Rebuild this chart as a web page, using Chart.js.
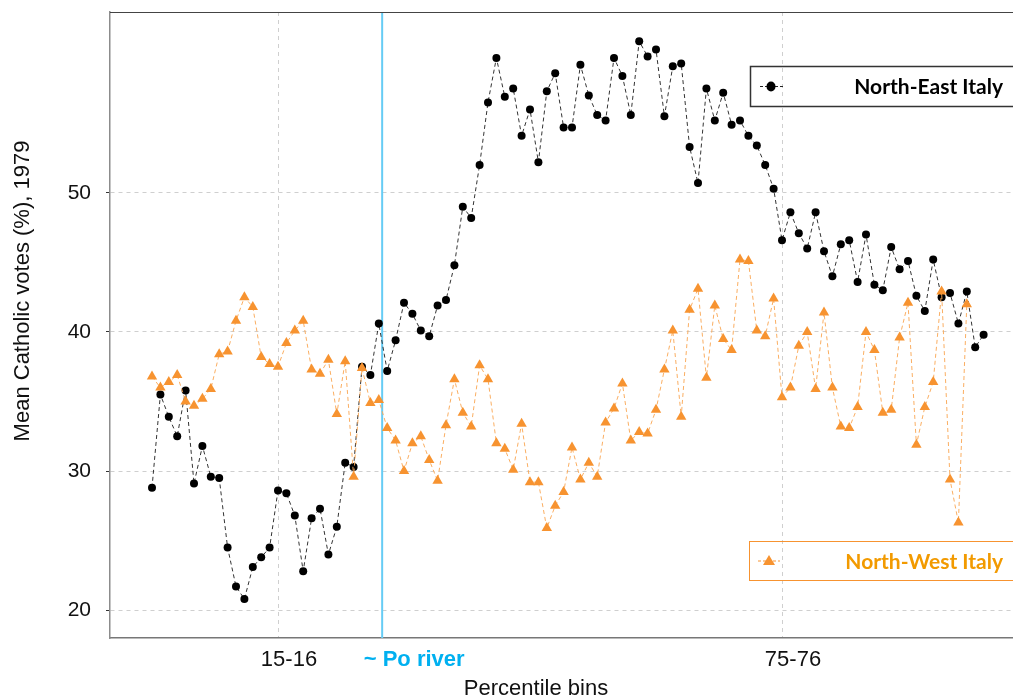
<!DOCTYPE html>
<html>
<head>
<meta charset="utf-8">
<script src="https://cdn.jsdelivr.net/npm/chart.js@4.4.0/dist/chart.umd.min.js"></script>
<style>
  html, body { margin: 0; padding: 0; background: #fff; }
  #wrap { width: 1013px; height: 700px; position: relative; }
</style>
</head>
<body>
<div id="wrap"><canvas id="chart"></canvas></div>
<script>
// values, one per percentile bin (0-1, 1-2, ...)
const northEast = [
  28.8, 35.5, 33.9, 32.5, 35.8, 29.1, 31.8, 29.6, 29.5, 24.5,
  21.7, 20.8, 23.1, 23.8, 24.5, 28.6, 28.4, 26.8, 22.8, 26.6,
  27.3, 24.0, 26.0, 30.6, 30.3, 37.5, 36.9, 40.6, 37.2, 39.4,
  42.1, 41.3, 40.1, 39.7, 41.9, 42.3, 44.8, 49.0, 48.2, 52.0,
  56.5, 59.7, 56.9, 57.5, 54.1, 56.0, 52.2, 57.3, 58.6, 54.7,
  54.7, 59.2, 57.0, 55.6, 55.2, 59.7, 58.4, 55.6, 60.9, 59.8,
  60.3, 55.5, 59.1, 59.3, 53.3, 50.7, 57.5, 55.2, 57.2, 54.9,
  55.2, 54.1, 53.4, 52.0, 50.3, 46.6, 48.6, 47.1, 46.0, 48.6,
  45.8, 44.0, 46.3, 46.6, 43.6, 47.0, 43.4, 43.0, 46.1, 44.5,
  45.1, 42.6, 41.5, 45.2, 42.5, 42.8, 40.6, 42.9, 38.9, 39.8
];

const northWest = [
  36.8, 36.0, 36.4, 36.9, 35.0, 34.7, 35.2, 35.9, 38.4, 38.6,
  40.8, 42.5, 41.8, 38.2, 37.7, 37.5, 39.2, 40.1, 40.8, 37.3,
  37.0, 38.0, 34.1, 37.9, 29.6, 37.4, 34.9, 35.1, 33.1, 32.2,
  30.0, 32.0, 32.5, 30.8, 29.3, 33.3, 36.6, 34.2, 33.2, 37.6,
  36.6, 32.0, 31.6, 30.1, 33.4, 29.2, 29.2, 25.9, 27.5, 28.5,
  31.7, 29.4, 30.6, 29.6, 33.5, 34.5, 36.3, 32.2, 32.8, 32.7,
  34.4, 37.3, 40.1, 33.9, 41.6, 43.1, 36.7, 41.9, 39.5, 38.7,
  45.2, 45.1, 40.1, 39.7, 42.4, 35.3, 36.0, 39.0, 40.0, 35.9,
  41.4, 36.0, 33.2, 33.1, 34.6, 40.0, 38.7, 34.2, 34.4, 39.6,
  42.1, 31.9, 34.6, 36.4, 42.9, 29.4, 26.3, 42.0
];

const seriesNames = ["North-East Italy", "North-West Italy"];
const xTickValues = [15, 75];
const xTickLabels = ["15-16", "75-76"];
const yTickValues = [20, 30, 40, 50];
const poRiverBin = 27.4;
const poRiverLabel = "~ Po river";
const xTitle = "Percentile bins";
const yTitle = "Mean Catholic votes (%), 1979";

const ORANGE = "rgb(247,147,48)";
const ORANGE_TEXT = "#F29A00";
const BLUE_LINE = "#66CCF5";
const BLUE_TEXT = "#00B0F0";
const AXIS_FONT = "'Liberation Sans', Arial, sans-serif";
const LEGEND_FONT = "Lato, 'Open Sans', sans-serif";

const toPoints = values => values.map((v, i) => ({ x: i, y: v }));

// scales should not add their own label padding to the plot area
function noPadding(scale) {
  scale.paddingLeft = 0;
  scale.paddingRight = 0;
  scale.paddingTop = 0;
  scale.paddingBottom = 0;
}

// extras: Po river line and label, top frame, axis titles, the two legend boxes
const extrasPlugin = {
  id: "extras",
  beforeDatasetsDraw(chart) {
    const { ctx, chartArea, scales } = chart;
    const px = scales.x.getPixelForValue(poRiverBin);
    ctx.save();
    ctx.strokeStyle = BLUE_LINE;
    ctx.lineWidth = 2;
    ctx.beginPath();
    ctx.moveTo(px, chartArea.top);
    ctx.lineTo(px, chartArea.bottom);
    ctx.stroke();
    ctx.restore();
  },
  afterDraw(chart) {
    const { ctx, chartArea, scales } = chart;
    ctx.save();

    // top frame line
    ctx.strokeStyle = "#444";
    ctx.lineWidth = 1.2;
    ctx.beginPath();
    ctx.moveTo(chartArea.left, chartArea.top + 0.5);
    ctx.lineTo(chartArea.right, chartArea.top + 0.5);
    ctx.stroke();

    // Po river label
    const px = scales.x.getPixelForValue(poRiverBin);
    ctx.fillStyle = BLUE_TEXT;
    ctx.font = "bold 22px " + AXIS_FONT;
    ctx.textAlign = "center";
    ctx.textBaseline = "middle";
    ctx.fillText(poRiverLabel, px + 32, 660);

    // axis titles
    ctx.fillStyle = "#111";
    ctx.font = "22px " + AXIS_FONT;
    ctx.fillText(xTitle, 536, 689);
    ctx.save();
    ctx.translate(23, 291);
    ctx.rotate(-Math.PI / 2);
    ctx.fillText(yTitle, 0, 0);
    ctx.restore();

    // legend: North-East
    ctx.strokeStyle = "#333";
    ctx.lineWidth = 1.5;
    ctx.strokeRect(750.5, 66.5, 275, 40);
    ctx.setLineDash([3, 2]);
    ctx.lineWidth = 1;
    ctx.strokeStyle = "#222";
    ctx.beginPath();
    ctx.moveTo(760, 86.5);
    ctx.lineTo(783, 86.5);
    ctx.stroke();
    ctx.setLineDash([]);
    ctx.fillStyle = "#000";
    ctx.beginPath();
    ctx.ellipse(771, 86.5, 4.5, 5, 0, 0, Math.PI * 2);
    ctx.fill();
    ctx.font = "bold 21px " + LEGEND_FONT;
    ctx.textAlign = "right";
    ctx.fillText(seriesNames[0], 1003, 87);

    // legend: North-West
    ctx.strokeStyle = ORANGE;
    ctx.lineWidth = 1;
    ctx.strokeRect(749.5, 541.5, 275, 39);
    ctx.setLineDash([3, 2]);
    ctx.beginPath();
    ctx.moveTo(758, 561);
    ctx.lineTo(780, 561);
    ctx.stroke();
    ctx.setLineDash([]);
    ctx.fillStyle = ORANGE;
    ctx.beginPath();
    ctx.moveTo(769, 555);
    ctx.lineTo(775, 565);
    ctx.lineTo(763, 565);
    ctx.closePath();
    ctx.fill();
    ctx.fillStyle = ORANGE_TEXT;
    ctx.fillText(seriesNames[1], 1003, 562);

    ctx.restore();
  }
};

new Chart(document.getElementById("chart"), {
  type: "line",
  data: {
    datasets: [
      {
        label: seriesNames[0],
        data: toPoints(northEast),
        borderColor: "#333",
        borderWidth: 1,
        borderDash: [4, 3],
        pointStyle: "circle",
        pointRadius: 4,
        pointBackgroundColor: "#000",
        pointBorderColor: "#000",
        pointBorderWidth: 0,
        tension: 0,
        order: 2
      },
      {
        label: seriesNames[1],
        data: toPoints(northWest),
        borderColor: "rgba(250,170,90,0.95)",
        borderWidth: 1,
        borderDash: [4, 3],
        pointStyle: "triangle",
        pointRadius: 6,
        pointBackgroundColor: ORANGE,
        pointBorderColor: ORANGE,
        pointBorderWidth: 0,
        tension: 0,
        order: 1
      }
    ]
  },
  options: {
    responsive: true,
    maintainAspectRatio: false,
    animation: false,
    layout: {
      autoPadding: false,
      padding: { top: 12, left: 0, right: 0, bottom: 0 }
    },
    plugins: {
      legend: { display: false },
      tooltip: { enabled: false }
    },
    scales: {
      x: {
        type: "linear",
        min: -5,
        max: 102.5,
        afterBuildTicks: scale => {
          scale.ticks = xTickValues.map(v => ({ value: v }));
        },
        afterFit: scale => {
          scale.height = 62;
          noPadding(scale);
        },
        ticks: {
          callback: (value, index) => xTickLabels[index],
          color: "#111",
          font: { size: 22, family: AXIS_FONT },
          padding: 9,
          labelOffset: 11,
          maxRotation: 0,
          autoSkip: false
        },
        grid: {
          color: "#cfcfcf",
          lineWidth: 1,
          drawTicks: false
        },
        border: { color: "#777", width: 1.5, dash: [4, 4] }
      },
      y: {
        min: 18,
        max: 63,
        afterBuildTicks: scale => {
          scale.ticks = yTickValues.map(v => ({ value: v }));
        },
        afterFit: scale => {
          scale.width = 110;
          noPadding(scale);
        },
        ticks: {
          color: "#111",
          font: { size: 21, family: AXIS_FONT },
          padding: 15
        },
        grid: {
          color: "#cfcfcf",
          lineWidth: 1,
          tickLength: 4,
          tickColor: "#333"
        },
        border: { color: "#8c8c8c", width: 1.5, dash: [4, 4] }
      }
    }
  },
  plugins: [extrasPlugin]
});
</script>
</body>
</html>
